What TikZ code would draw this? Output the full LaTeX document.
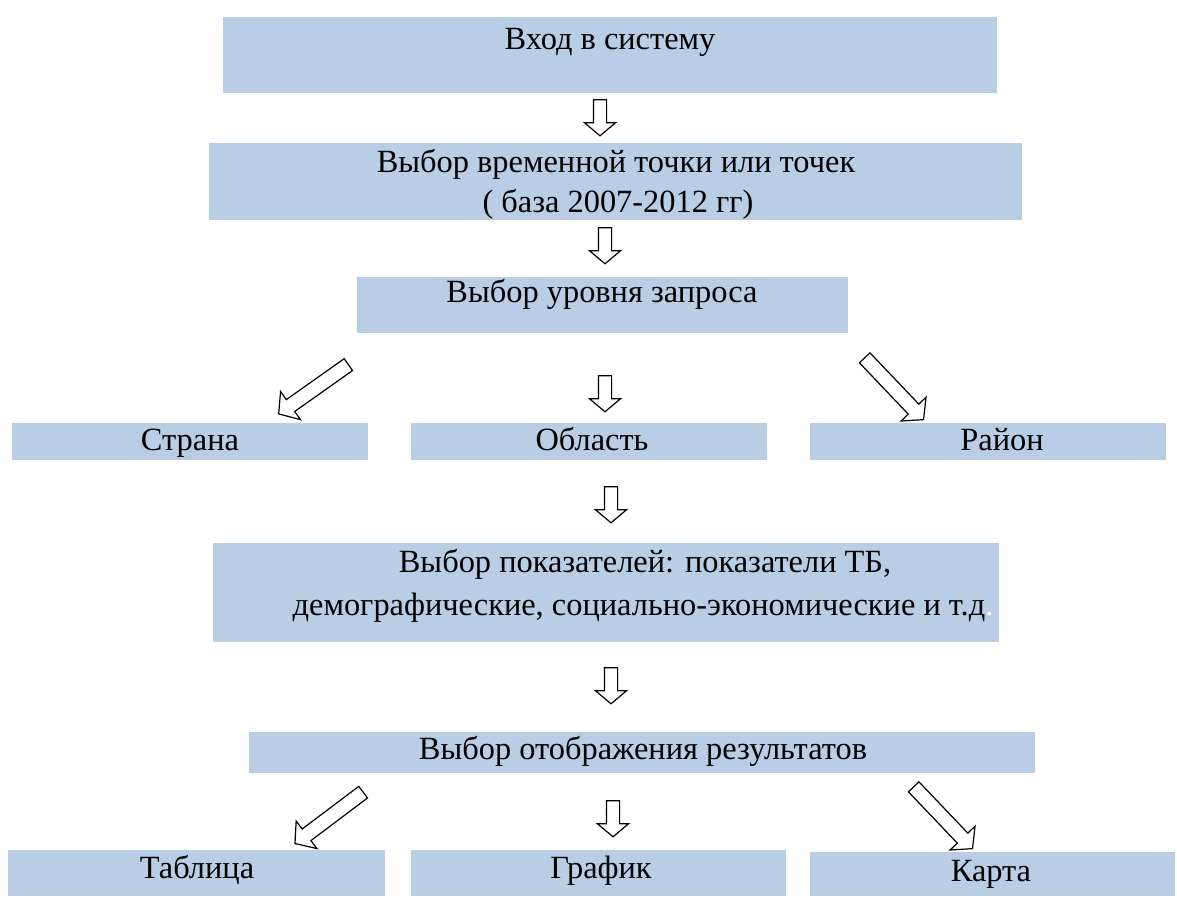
\documentclass[tikz,border=0pt]{standalone}
\usepackage{fontspec}
\setmainfont{Liberation Serif}
\usetikzlibrary{shapes.arrows}
\definecolor{boxblue}{HTML}{B9CDE5}
\begin{document}
\begin{tikzpicture}[x=0.75pt,y=-0.75pt,
  box/.style={fill=boxblue, draw=none, rectangle, inner sep=0pt, anchor=north west},
  lbl/.style={font=\fontsize{24.3}{30}\selectfont, inner sep=0pt, align=center,
    text height=0.68em, text depth=0.22em, yshift=-4.5pt},
  blk/.style={single arrow, draw=black, fill=white, line width=0.9pt,
    inner xsep=0pt, inner ysep=4.5pt, single arrow head extend=6.75pt,
    single arrow tip angle=100, line join=miter},
  dn/.style={blk, minimum height=27pt, rotate=-90},
  dg/.style={blk, minimum height=64pt, inner ysep=5pt, single arrow head extend=7.5pt}]
\useasboundingbox (0,0) rectangle (1177,897);
% boxes
\node[box, minimum width=580.5pt, minimum height=57pt] (b1) at (223,17) {};
\node[box, minimum width=609.75pt, minimum height=57.75pt] (b2) at (209,143) {};
\node[box, minimum width=368.25pt, minimum height=42pt] (b3) at (357,277) {};
\node[box, minimum width=267pt, minimum height=27.75pt] (b4a) at (12,423) {};
\node[box, minimum width=267pt, minimum height=27.75pt] (b4b) at (411,423) {};
\node[box, minimum width=267pt, minimum height=27.75pt] (b4c) at (810,423) {};
\node[box, minimum width=589.5pt, minimum height=74.25pt] (b5) at (213,543) {};
\node[box, minimum width=589.5pt, minimum height=30.75pt] (b6) at (249,732) {};
\node[box, minimum width=282.75pt, minimum height=34.5pt] (b7a) at (8,850) {};
\node[box, minimum width=281.25pt, minimum height=34.5pt] (b7b) at (411,850) {};
\node[box, minimum width=273.75pt, minimum height=33pt] (b7c) at (810,852) {};
% labels
\node[lbl] (t1) at (610,40) {Вход в систему};
\node[lbl] (t2a) at (616,163) {Выбор временной точки или точек};
\node[lbl] (t2b) at (618,203) {( база 2007-2012 гг)};
\node[lbl] (t3) at (602,293) {Выбор уровня запроса};
\node[lbl] (t4a) at (190,441) {Страна};
\node[lbl] (t4b) at (592,441) {Область};
\node[lbl] (t4c) at (1002,441) {Район};
\node[lbl] (t5a) at (645,563) {Выбор показателей: показатели ТБ,};
\node[lbl] (t5b) at (643,606) {демографические, социально-экономические и т.д\textcolor{white}{.}};
\node[lbl] (t6) at (643,750) {Выбор отображения результатов};
\node[lbl] (t7a) at (197,869) {Таблица};
\node[lbl] (t7b) at (601,869) {График};
\node[lbl] (t7c) at (991,872) {Карта};
% block arrows
\node[dn] (a1) at (600,115) {};
\node[dn] (a2) at (605,243) {};
\node[dn] (a3) at (605,391) {};
\node[dn] (a4) at (611,502) {};
\node[dn] (a5) at (611,683) {};
\node[dn] (a6) at (613,816) {};
\node[dg, rotate=215.3] (d1) at (316,387.5) {};
\node[dg, rotate=-46.4] (d2) at (892,386.5) {};
\node[dg, rotate=217] (d3) at (331.5,816) {};
\node[dg, rotate=-46.4] (d4) at (941,815.5) {};
\end{tikzpicture}
\end{document}
